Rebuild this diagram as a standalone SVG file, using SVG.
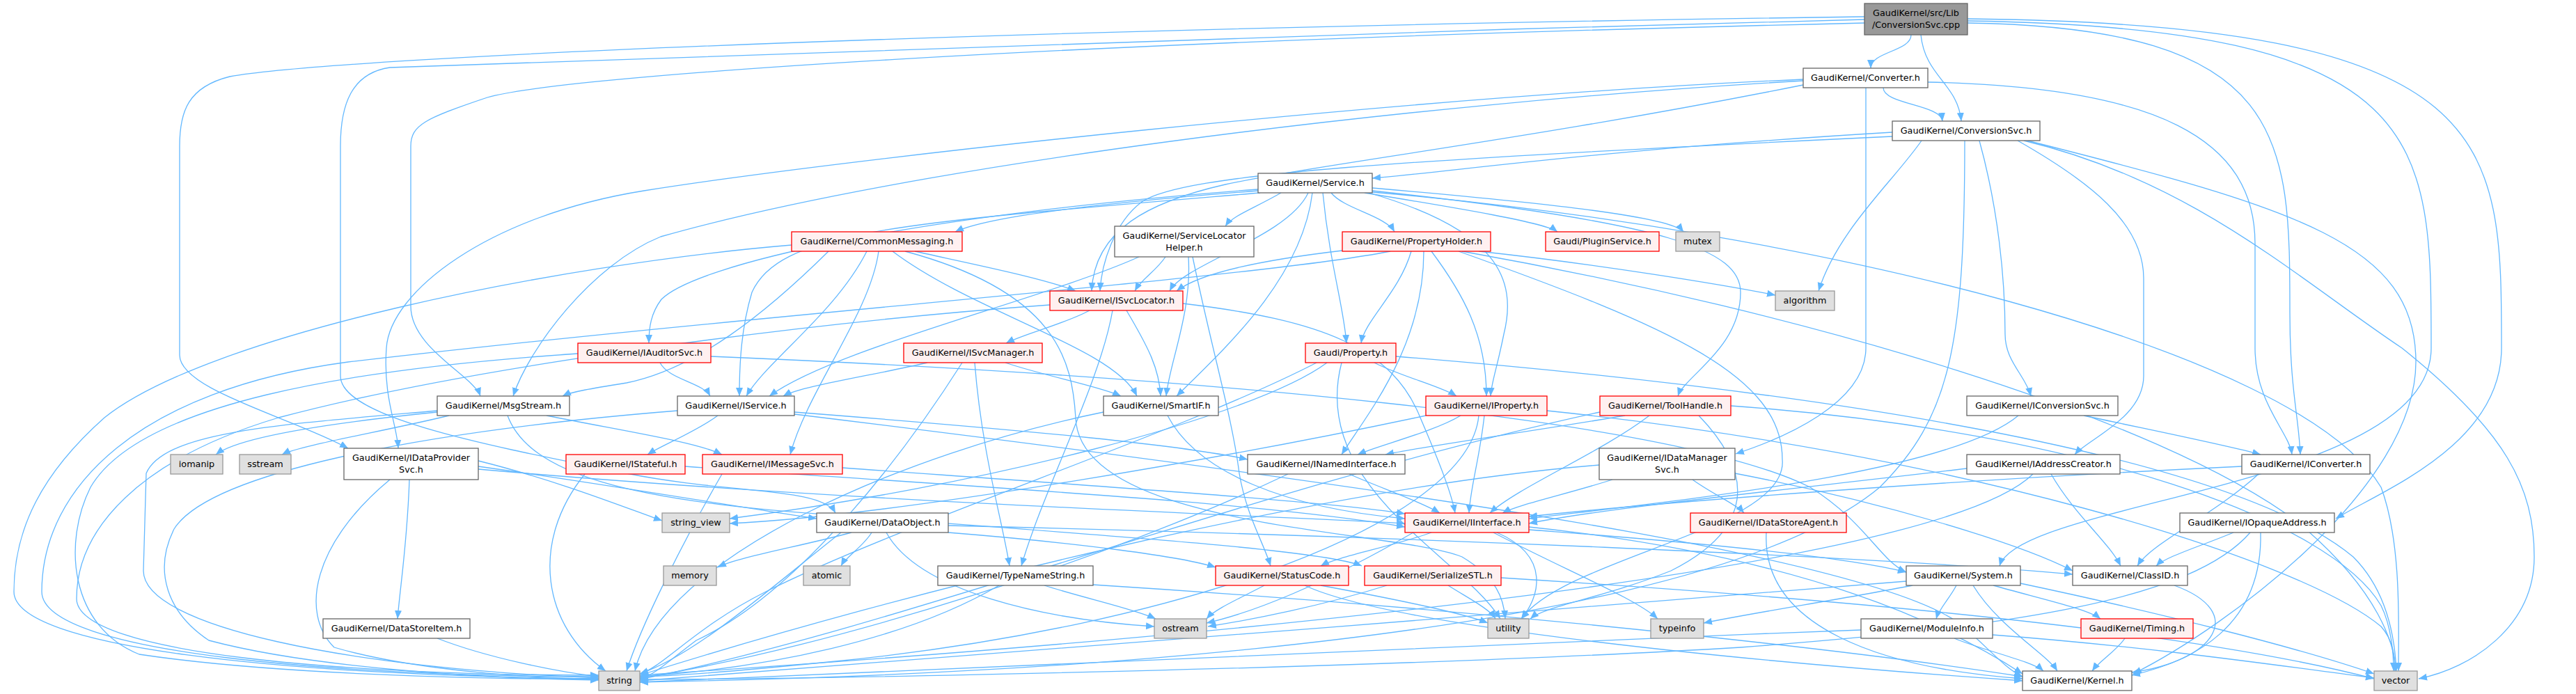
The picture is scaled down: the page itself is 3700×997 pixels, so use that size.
<svg xmlns="http://www.w3.org/2000/svg" width="3700" height="997" viewBox="0 0 3700 997">
<defs>
<marker id="ah" viewBox="0 0 12 11" refX="12" refY="5.5" markerWidth="12" markerHeight="11" orient="auto" markerUnits="userSpaceOnUse"><path d="M0,0.5 L12,5.5 L0,10.5 z" fill="#63b8ff"/></marker>
</defs>
<style>
text{font-family:"DejaVu Sans","Liberation Sans",sans-serif;font-size:12.8px;fill:#000;text-anchor:middle}
.e path{fill:none;stroke:#63b8ff;stroke-width:1.3;marker-end:url(#ah)}
.w rect{fill:#fff;stroke:#666;stroke-width:1.3}
.r rect{fill:#fff0f0;stroke:#f00;stroke-width:1.3}
.g rect{fill:#e0e0e0;stroke:#999;stroke-width:1.3}
.m rect{fill:#999;stroke:#666;stroke-width:1.3}
</style>
<rect width="3700" height="997" fill="#fff"/>
<g id="edges" class="e">
<path d="M2745,50 C2745,74 2687,74 2687,98"/>
<path d="M2759,50 C2765,110 2812,120 2817,174"/>
<path d="M2826,33 C3289,40 3289,200 3289,450 C3289,560 3302,600 3304,653"/>
<path d="M2826,27 C3593,35 3593,200 3593,500 C3593,640 3420,705 3355,745"/>
<path d="M2826,30 C3492,40 3492,200 3492,500 C3492,700 2900,720 2872,813"/>
<path d="M2678,33 C1500,60 800,110 700,140 C610,170 590,180 590,210 L590,440 C590,500 680,540 690,569"/>
<path d="M2678,24 C1500,40 500,80 330,110 C270,125 258,160 258,210 L258,510 C258,560 420,600 500,644"/>
<path d="M2678,28 C1800,50 700,90 560,97 C505,105 489,150 489,210 L489,540 C489,600 700,640 900,680 C1050,710 1180,700 1200,737"/>
<path d="M2705,126 C2705,150 2788,150 2790,174"/>
<path d="M2680,126 L2680,500 C2680,580 2560,630 2493,652"/>
<path d="M2769,118 C3100,125 3239,200 3239,350 L3239,500 C3239,580 3288,620 3292,653"/>
<path d="M2590,114 C2000,140 1200,230 925,274 C700,310 560,420 555,500 C550,570 570,610 572,644"/>
<path d="M2590,116 C2000,150 1300,240 949,340 C850,380 760,500 737,569"/>
<path d="M2590,122 C2200,200 1900,235 1760,265 C1650,290 1572,330 1568,418"/>
<path d="M2718,190 C2300,215 2100,245 1971,256"/>
<path d="M2718,196 C2000,230 1700,250 1640,290 C1600,320 1582,380 1580,418"/>
<path d="M2760,202 C2720,260 2640,330 2612,418"/>
<path d="M2822,202 C2822,500 2800,600 2700,700 C2400,950 1200,975 919,980"/>
<path d="M2843,202 C2870,300 2880,400 2880,480 C2880,520 2910,540 2917,569"/>
<path d="M2898,202 C3000,260 3079,320 3079,400 L3079,540 C3079,600 3000,630 2980,653"/>
<path d="M2907,202 C3150,260 3300,400 3450,500 C3600,620 3640,700 3640,800 C3640,900 3550,960 3474,975"/>
<path d="M2912,202 C3300,300 3470,350 3470,520 C3470,700 3200,900 3064,968"/>
<path d="M1807,274 C1600,290 1420,310 1372,333"/>
<path d="M1840,277 C1800,300 1770,310 1760,325"/>
<path d="M1912,277 C1930,300 1990,310 2003,333"/>
<path d="M1960,277 C2100,300 2220,320 2237,333"/>
<path d="M1971,270 C2200,290 2400,310 2418,333"/>
<path d="M1879,277 C1850,340 1700,380 1680,418"/>
<path d="M1807,272 C1300,310 1000,380 950,430 C935,450 932,470 932,493"/>
<path d="M1810,277 C1300,320 1120,330 1080,420 C1065,470 1062,520 1062,569"/>
<path d="M1885,277 C1870,400 1760,500 1690,569"/>
<path d="M1900,277 C1910,380 1930,440 1934,493"/>
<path d="M1966,277 C2150,330 2180,400 2160,480 C2150,530 2142,550 2141,569"/>
<path d="M1971,274 C2400,320 2500,360 2500,420 C2500,500 2420,540 2410,569"/>
<path d="M1971,276 C2600,330 3300,500 3420,700 C3450,780 3445,900 3445,964"/>
<path d="M1190,361 C1100,450 1000,530 900,550 C850,558 820,563 808,569"/>
<path d="M1137,352 C800,380 300,480 150,600 C60,680 20,760 20,850 C20,930 400,970 860,975"/>
<path d="M1245,361 C1200,450 1100,520 1072,569"/>
<path d="M1262,361 C1250,450 1160,560 1135,653"/>
<path d="M1282,361 C1400,450 1600,500 1633,569"/>
<path d="M1300,361 C1520,420 1540,520 1545,600 C1550,760 2000,760 2100,800 C2150,830 2160,860 2162,889"/>
<path d="M1314,361 C1400,380 1500,400 1545,418"/>
<path d="M1636,369 C1500,430 1200,500 1105,569"/>
<path d="M1674,369 C1660,390 1640,400 1630,418"/>
<path d="M1707,369 C1712,450 1680,520 1675,569"/>
<path d="M1713,369 C1740,500 1770,600 1780,680 C1790,740 1815,780 1825,813"/>
<path d="M1928,360 C1800,375 1720,395 1690,418"/>
<path d="M1997,361 C1800,400 1100,450 500,520 C200,560 60,700 60,850 C60,940 500,972 860,972"/>
<path d="M2027,361 C2010,420 1960,460 1955,493"/>
<path d="M2045,361 C2045,500 1960,600 1927,653"/>
<path d="M2056,361 C2100,420 2135,480 2135,569"/>
<path d="M2095,361 C2400,470 2560,540 2560,660 C2570,760 2250,800 2185,889"/>
<path d="M2100,361 C2600,450 3100,600 3300,750 C3420,850 3440,930 3441,964"/>
<path d="M2124,361 C2300,380 2480,410 2550,424"/>
<path d="M948,521 C960,545 1010,550 1020,569"/>
<path d="M830,508 C500,530 200,580 130,700 C90,780 100,900 200,940 C400,970 700,975 860,976"/>
<path d="M1021,512 C1700,540 2400,600 2600,700 C2680,750 2700,805 2738,822"/>
<path d="M1565,446 C1530,465 1470,480 1445,493"/>
<path d="M1508,438 C1200,460 700,520 400,600 C200,660 110,760 110,860 C110,940 500,970 860,970"/>
<path d="M1598,446 C1580,550 1500,700 1467,813"/>
<path d="M1618,446 C1650,500 1665,530 1667,569"/>
<path d="M1699,436 C1900,460 2000,500 2040,600 C2070,670 2085,710 2090,737"/>
<path d="M1332,521 C1250,540 1150,555 1125,569"/>
<path d="M1382,521 C1300,650 1150,850 1000,920 C960,950 940,970 919,975"/>
<path d="M1400,521 C1410,650 1440,750 1450,813"/>
<path d="M1444,521 C1500,540 1580,555 1610,569"/>
<path d="M1974,521 C2010,540 2070,555 2092,569"/>
<path d="M1891,521 C1700,620 1300,750 1100,850 C1000,900 950,960 919,968"/>
<path d="M1906,521 C1800,600 1400,700 1048,745"/>
<path d="M1927,521 C1880,700 2100,800 2155,889"/>
<path d="M2005,512 C2600,560 3200,650 3380,800 C3430,850 3440,920 3442,964"/>
<path d="M628,592 C450,610 340,630 310,653"/>
<path d="M645,597 C550,620 430,640 405,653"/>
<path d="M628,590 C400,610 236,620 210,680 L206,820 C206,900 500,960 860,974"/>
<path d="M785,597 C900,620 1000,635 1037,653"/>
<path d="M729,597 C760,680 900,720 1200,740 C1600,770 1900,790 1956,813"/>
<path d="M1031,597 C1000,620 950,640 930,653"/>
<path d="M1141,592 C1500,620 1700,640 1792,660"/>
<path d="M973,590 C600,620 300,680 250,760 C220,820 240,880 300,920 C450,960 700,975 860,977"/>
<path d="M1141,595 C2000,700 2700,800 2820,900 C2860,935 2880,960 2905,972"/>
<path d="M1677,597 C1720,680 1850,730 2018,745"/>
<path d="M1585,592 C1300,650 950,800 912,964"/>
<path d="M2048,597 C1800,650 1300,740 1048,752"/>
<path d="M2098,597 C2060,620 1980,640 1950,653"/>
<path d="M2124,597 C2110,750 1700,900 1200,950 C1050,965 960,972 919,972"/>
<path d="M2132,597 C2125,660 2112,700 2110,737"/>
<path d="M2222,590 C2800,650 3300,800 3420,900 C3438,920 3440,945 3440,964"/>
<path d="M2334,597 C2200,620 2050,640 1990,653"/>
<path d="M2369,597 C2300,650 2180,700 2140,737"/>
<path d="M2298,592 C1800,700 1300,900 919,976"/>
<path d="M2440,597 C2520,680 2520,760 2400,820 C2300,860 2220,870 2198,889"/>
<path d="M2486,583 C3000,620 3350,750 3420,870 C3435,900 3438,940 3438,964"/>
<path d="M2993,597 C3100,620 3200,640 3247,653"/>
<path d="M2899,597 C2800,680 2400,720 2196,745"/>
<path d="M588,689 C585,780 575,840 571,889"/>
<path d="M560,689 C450,780 430,880 480,930 C600,965 780,975 860,975"/>
<path d="M687,662 C800,690 900,730 951,748"/>
<path d="M687,670 C900,700 1100,735 1173,745"/>
<path d="M687,674 C1200,720 1800,740 2018,752"/>
<path d="M984,670 C1400,700 1800,720 2018,757"/>
<path d="M840,681 C760,780 780,900 870,964"/>
<path d="M1210,672 C1600,700 1900,720 2018,738"/>
<path d="M1037,681 C980,780 920,900 900,964"/>
<path d="M1938,681 C1980,700 2040,720 2068,737"/>
<path d="M1850,681 C1600,800 1200,930 919,974"/>
<path d="M2316,689 C2250,710 2180,725 2158,737"/>
<path d="M2431,689 C2460,710 2495,725 2505,737"/>
<path d="M2492,680 C2700,720 2900,780 2977,820"/>
<path d="M2297,668 C1900,700 1300,850 919,970"/>
<path d="M2946,681 C2980,740 3030,780 3046,813"/>
<path d="M2920,681 C2800,800 2000,900 919,970"/>
<path d="M2825,673 C2600,700 2300,730 2196,752"/>
<path d="M3244,681 C3180,740 3090,780 3070,813"/>
<path d="M3220,670 C2800,690 2400,720 2196,742"/>
<path d="M1223,765 C1150,785 1060,800 1031,815"/>
<path d="M1252,765 C1240,785 1215,800 1208,813"/>
<path d="M1273,765 C1320,850 1500,890 1658,900"/>
<path d="M1208,765 C1100,850 1000,940 919,968"/>
<path d="M1362,765 C1550,780 1700,800 1746,815"/>
<path d="M1362,755 C2000,770 2700,800 2977,825"/>
<path d="M2056,765 C2000,785 1920,800 1897,813"/>
<path d="M2145,765 C2250,820 2350,860 2381,889"/>
<path d="M2150,765 C2230,800 2210,860 2185,889"/>
<path d="M2196,757 C2600,800 2800,900 2905,968"/>
<path d="M2196,761 C2450,780 2650,800 2738,822"/>
<path d="M2030,765 C1900,840 1800,880 1733,895"/>
<path d="M2537,765 C2530,900 2700,960 2905,975"/>
<path d="M3208,765 C3160,785 3110,800 3097,813"/>
<path d="M3247,765 C3250,900 3150,950 3062,970"/>
<path d="M3232,765 C3150,860 2900,900 2500,930 C2000,960 1200,975 919,976"/>
<path d="M1500,841 C1560,860 1630,875 1660,889"/>
<path d="M1435,841 C1300,920 1100,960 919,972"/>
<path d="M1570,840 C2200,880 2700,940 2905,972"/>
<path d="M1816,841 C1780,860 1745,875 1733,889"/>
<path d="M1897,841 C2000,860 2100,880 2137,895"/>
<path d="M1874,841 C2000,900 2500,950 2905,978"/>
<path d="M1992,841 C1900,870 1800,890 1735,900"/>
<path d="M2080,841 C2110,860 2140,875 2148,889"/>
<path d="M2156,830 C2800,870 3200,920 3410,975"/>
<path d="M2810,841 C2800,860 2785,875 2781,889"/>
<path d="M2834,841 C2870,900 2940,940 2955,964"/>
<path d="M2863,841 C2930,860 3000,875 3017,889"/>
<path d="M2902,838 C3100,880 3300,930 3410,968"/>
<path d="M2747,841 C2650,860 2520,880 2447,895"/>
<path d="M2738,835 C2200,880 1400,940 919,978"/>
<path d="M3123,841 C3230,880 3180,950 3062,966"/>
<path d="M628,917 C700,945 800,965 860,972"/>
<path d="M2807,917 C2850,935 2920,950 2935,964"/>
<path d="M2862,912 C3100,930 3300,960 3410,974"/>
<path d="M2673,905 C2000,930 1300,965 919,980"/>
<path d="M3052,917 C3040,935 3015,950 3005,964"/>
</g>
<g id="n_main" class="m"><rect x="2678" y="5" width="148" height="45"/><text x="2752" y="23">GaudiKernel/src/Lib</text><text x="2752" y="40">/ConversionSvc.cpp</text></g>
<g id="n_converter" class="w"><rect x="2590" y="98" width="179" height="28"/><text x="2679.5" y="116">GaudiKernel/Converter.h</text></g>
<g id="n_convsvc" class="w"><rect x="2718" y="174" width="212" height="28"/><text x="2824" y="192">GaudiKernel/ConversionSvc.h</text></g>
<g id="n_service" class="w"><rect x="1807" y="249" width="164" height="28"/><text x="1889" y="267">GaudiKernel/Service.h</text></g>
<g id="n_commonmsg" class="r"><rect x="1137" y="333" width="245" height="28"/><text x="1259.5" y="351">GaudiKernel/CommonMessaging.h</text></g>
<g id="n_slh" class="w"><rect x="1601" y="325" width="200" height="44"/><text x="1701" y="343">GaudiKernel/ServiceLocator</text><text x="1701" y="360">Helper.h</text></g>
<g id="n_propholder" class="r"><rect x="1928" y="333" width="213" height="28"/><text x="2034.5" y="351">GaudiKernel/PropertyHolder.h</text></g>
<g id="n_pluginsvc" class="r"><rect x="2220" y="333" width="163" height="28"/><text x="2301.5" y="351">Gaudi/PluginService.h</text></g>
<g id="n_mutex" class="g"><rect x="2407" y="333" width="63" height="28"/><text x="2438.5" y="351">mutex</text></g>
<g id="n_isvclocator" class="r"><rect x="1508" y="418" width="191" height="28"/><text x="1603.5" y="436">GaudiKernel/ISvcLocator.h</text></g>
<g id="n_algorithm" class="g"><rect x="2550" y="418" width="85" height="28"/><text x="2592.5" y="436">algorithm</text></g>
<g id="n_iauditorsvc" class="r"><rect x="830" y="493" width="191" height="28"/><text x="925.5" y="511">GaudiKernel/IAuditorSvc.h</text></g>
<g id="n_isvcmanager" class="r"><rect x="1298" y="493" width="199" height="28"/><text x="1397.5" y="511">GaudiKernel/ISvcManager.h</text></g>
<g id="n_property" class="r"><rect x="1875" y="493" width="130" height="28"/><text x="1940" y="511">Gaudi/Property.h</text></g>
<g id="n_msgstream" class="w"><rect x="628" y="569" width="190" height="28"/><text x="723" y="587">GaudiKernel/MsgStream.h</text></g>
<g id="n_iservice" class="w"><rect x="973" y="569" width="168" height="28"/><text x="1057" y="587">GaudiKernel/IService.h</text></g>
<g id="n_smartif" class="w"><rect x="1585" y="569" width="165" height="28"/><text x="1667.5" y="587">GaudiKernel/SmartIF.h</text></g>
<g id="n_iproperty" class="r"><rect x="2048" y="569" width="174" height="28"/><text x="2135" y="587">GaudiKernel/IProperty.h</text></g>
<g id="n_toolhandle" class="r"><rect x="2298" y="569" width="188" height="28"/><text x="2392" y="587">GaudiKernel/ToolHandle.h</text></g>
<g id="n_iconvsvc" class="w"><rect x="2825" y="569" width="217" height="28"/><text x="2933.5" y="587">GaudiKernel/IConversionSvc.h</text></g>
<g id="n_idataprov" class="w"><rect x="494" y="644" width="193" height="45"/><text x="590.5" y="662">GaudiKernel/IDataProvider</text><text x="590.5" y="679">Svc.h</text></g>
<g id="n_iomanip" class="g"><rect x="245" y="653" width="75" height="28"/><text x="282.5" y="671">iomanip</text></g>
<g id="n_sstream" class="g"><rect x="344" y="653" width="74" height="28"/><text x="381" y="671">sstream</text></g>
<g id="n_istateful" class="r"><rect x="813" y="653" width="171" height="28"/><text x="898.5" y="671">GaudiKernel/IStateful.h</text></g>
<g id="n_imessagesvc" class="r"><rect x="1009" y="653" width="201" height="28"/><text x="1109.5" y="671">GaudiKernel/IMessageSvc.h</text></g>
<g id="n_inamed" class="w"><rect x="1792" y="653" width="226" height="28"/><text x="1905" y="671">GaudiKernel/INamedInterface.h</text></g>
<g id="n_idatamgr" class="w"><rect x="2297" y="644" width="195" height="45"/><text x="2394.5" y="662">GaudiKernel/IDataManager</text><text x="2394.5" y="679">Svc.h</text></g>
<g id="n_iaddrcreator" class="w"><rect x="2825" y="653" width="220" height="28"/><text x="2935" y="671">GaudiKernel/IAddressCreator.h</text></g>
<g id="n_iconverter" class="w"><rect x="3220" y="653" width="184" height="28"/><text x="3312" y="671">GaudiKernel/IConverter.h</text></g>
<g id="n_stringview" class="g"><rect x="951" y="737" width="97" height="28"/><text x="999.5" y="755">string_view</text></g>
<g id="n_dataobject" class="w"><rect x="1173" y="737" width="189" height="28"/><text x="1267.5" y="755">GaudiKernel/DataObject.h</text></g>
<g id="n_iinterface" class="r"><rect x="2018" y="737" width="178" height="28"/><text x="2107" y="755">GaudiKernel/IInterface.h</text></g>
<g id="n_idatastoreagent" class="r"><rect x="2428" y="737" width="224" height="28"/><text x="2540" y="755">GaudiKernel/IDataStoreAgent.h</text></g>
<g id="n_iopaque" class="w"><rect x="3131" y="737" width="222" height="28"/><text x="3242" y="755">GaudiKernel/IOpaqueAddress.h</text></g>
<g id="n_memory" class="g"><rect x="953" y="813" width="76" height="28"/><text x="991" y="831">memory</text></g>
<g id="n_atomic" class="g"><rect x="1154" y="813" width="67" height="28"/><text x="1187.5" y="831">atomic</text></g>
<g id="n_typenamestring" class="w"><rect x="1347" y="813" width="223" height="28"/><text x="1458.5" y="831">GaudiKernel/TypeNameString.h</text></g>
<g id="n_statuscode" class="r"><rect x="1746" y="813" width="191" height="28"/><text x="1841.5" y="831">GaudiKernel/StatusCode.h</text></g>
<g id="n_serializestl" class="r"><rect x="1960" y="813" width="196" height="28"/><text x="2058" y="831">GaudiKernel/SerializeSTL.h</text></g>
<g id="n_system" class="w"><rect x="2738" y="813" width="164" height="28"/><text x="2820" y="831">GaudiKernel/System.h</text></g>
<g id="n_classid" class="w"><rect x="2977" y="813" width="165" height="28"/><text x="3059.5" y="831">GaudiKernel/ClassID.h</text></g>
<g id="n_datastoreitem" class="w"><rect x="464" y="889" width="211" height="28"/><text x="569.5" y="907">GaudiKernel/DataStoreItem.h</text></g>
<g id="n_ostream" class="g"><rect x="1658" y="889" width="75" height="28"/><text x="1695.5" y="907">ostream</text></g>
<g id="n_utility" class="g"><rect x="2137" y="889" width="59" height="28"/><text x="2166.5" y="907">utility</text></g>
<g id="n_typeinfo" class="g"><rect x="2371" y="889" width="76" height="28"/><text x="2409" y="907">typeinfo</text></g>
<g id="n_moduleinfo" class="w"><rect x="2673" y="889" width="189" height="28"/><text x="2767.5" y="907">GaudiKernel/ModuleInfo.h</text></g>
<g id="n_timing" class="r"><rect x="2989" y="889" width="161" height="28"/><text x="3069.5" y="907">GaudiKernel/Timing.h</text></g>
<g id="n_string" class="g"><rect x="860" y="964" width="59" height="28"/><text x="889.5" y="982">string</text></g>
<g id="n_kernel" class="w"><rect x="2905" y="964" width="157" height="28"/><text x="2983.5" y="982">GaudiKernel/Kernel.h</text></g>
<g id="n_vector" class="g"><rect x="3410" y="964" width="62" height="28"/><text x="3441" y="982">vector</text></g>
</svg>
